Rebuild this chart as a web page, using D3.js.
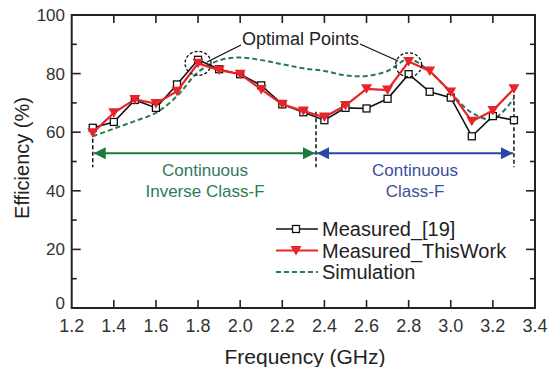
<!DOCTYPE html>
<html>
<head>
<meta charset="utf-8">
<script src="https://cdn.jsdelivr.net/npm/d3@7"></script>
<style>
  body { margin: 0; background: #fff; }
  svg { font-family: "Liberation Sans", Arial, sans-serif; }
</style>
</head>
<body>
<svg id="chart" width="550" height="367"></svg>
<script>
// data
const freq = [1.3, 1.4, 1.5, 1.6, 1.7, 1.8, 1.9, 2.0, 2.1, 2.2, 2.3,
              2.4, 2.5, 2.6, 2.7, 2.8, 2.9, 3.0, 3.1, 3.2, 3.3];
const measured19 = [61.5, 63.5, 71.0, 68.3, 76.3, 84.7, 81.5, 79.8, 76.0, 69.5, 66.8,
                    64.1, 68.3, 68.1, 71.4, 79.8, 73.8, 71.8, 58.6, 65.5, 64.1];
const measuredThis = [59.8, 66.6, 71.2, 69.8, 74.0, 83.5, 81.2, 79.8, 74.6, 69.5, 67.2,
                      65.2, 69.1, 74.8, 74.4, 84.1, 80.9, 73.7, 63.7, 67.4, 74.8];
const simulation = [58.6, 61.2, 63.8, 66.6, 72.3, 80.5, 84.5, 85.5, 84.6, 83.2, 81.8,
                    80.9, 79.4, 79.2, 80.9, 84.9, 80.7, 73.5, 66.6, 64.5, 71.5];

const xTicks = [1.2, 1.4, 1.6, 1.8, 2.0, 2.2, 2.4, 2.6, 2.8, 3.0, 3.2, 3.4];
const yTicks = [0, 20, 40, 60, 80, 100];
const yMinor = [10, 30, 50, 70, 90];

const bandEdges = [1.3, 2.36, 3.3];
const bandTops = [60, 67, 75];
const optimal = [{f: 1.8, v: 83.5}, {f: 2.8, v: 83}];

const svg = d3.select("#chart");
const x = d3.scaleLinear().domain([1.2, 3.4]).range([71.7, 535]);
const y = d3.scaleLinear().domain([0, 100]).range([308, 15]);

const axisColor = "#222";

// frame
svg.append("rect")
    .attr("x", x(1.2)).attr("y", y(100))
    .attr("width", x(3.4) - x(1.2)).attr("height", y(0) - y(100))
    .attr("fill", "none").attr("stroke", axisColor).attr("stroke-width", 2);

// ticks (inward, all four sides)
const tickG = svg.append("g").attr("stroke", axisColor).attr("stroke-width", 1.6);
xTicks.slice(1, -1).forEach(t => {
    tickG.append("line").attr("x1", x(t)).attr("x2", x(t)).attr("y1", y(0)).attr("y2", y(0) - 8);
    tickG.append("line").attr("x1", x(t)).attr("x2", x(t)).attr("y1", y(100)).attr("y2", y(100) + 8);
});
yTicks.slice(1, -1).forEach(t => {
    tickG.append("line").attr("x1", x(1.2)).attr("x2", x(1.2) + 9).attr("y1", y(t)).attr("y2", y(t));
    tickG.append("line").attr("x1", x(3.4)).attr("x2", x(3.4) - 9).attr("y1", y(t)).attr("y2", y(t));
});
yMinor.forEach(t => {
    tickG.append("line").attr("x1", x(1.2)).attr("x2", x(1.2) + 5).attr("y1", y(t)).attr("y2", y(t));
    tickG.append("line").attr("x1", x(3.4)).attr("x2", x(3.4) - 5).attr("y1", y(t)).attr("y2", y(t));
});

// tick labels
svg.append("g").selectAll("text")
    .data(xTicks).enter().append("text")
    .attr("x", d => x(d)).attr("y", 332)
    .attr("text-anchor", "middle").attr("font-size", "18px").attr("fill", "#333")
    .text(d => d.toFixed(1));
svg.append("g").selectAll("text")
    .data(yTicks).enter().append("text")
    .attr("x", 65).attr("y", d => d === 0 ? y(d) + 1 : y(d) + 6)
    .attr("text-anchor", "end").attr("font-size", "17px").attr("fill", "#333")
    .text(d => d);

// axis titles
svg.append("text")
    .attr("x", 305).attr("y", 364)
    .attr("text-anchor", "middle").attr("font-size", "21px").attr("fill", "#222")
    .text("Frequency (GHz)");
svg.append("text")
    .attr("transform", "translate(29,158) rotate(-90)")
    .attr("text-anchor", "middle").attr("font-size", "20px").attr("fill", "#222")
    .text("Efficiency (%)");

// band markers (vertical dashed)
svg.append("g").selectAll("line")
    .data(bandEdges).enter().append("line")
    .attr("x1", d => x(d)).attr("x2", d => x(d))
    .attr("y1", (d, i) => y(bandTops[i])).attr("y2", y(48))
    .attr("stroke", "#111").attr("stroke-width", 1.5).attr("stroke-dasharray", "4,2.5");

// arrows
const defs = svg.append("defs");
[["g", "#1b7a3c"], ["b", "#2746a6"]].forEach(([id, c]) => {
    defs.append("marker").attr("id", "arr-" + id)
        .attr("viewBox", "0 0 10 10").attr("refX", 10).attr("refY", 5)
        .attr("markerWidth", 16).attr("markerHeight", 12)
        .attr("markerUnits", "userSpaceOnUse")
        .attr("orient", "auto-start-reverse")
        .append("path").attr("d", "M0,0L10,5L0,10Z").attr("fill", c);
});
const arrowY = y(52.8);
svg.append("line")
    .attr("x1", x(bandEdges[0]) + 1).attr("x2", x(bandEdges[1]) - 1)
    .attr("y1", arrowY).attr("y2", arrowY)
    .attr("stroke", "#1b7a3c").attr("stroke-width", 2)
    .attr("marker-start", "url(#arr-g)").attr("marker-end", "url(#arr-g)");
svg.append("line")
    .attr("x1", x(bandEdges[1]) + 1).attr("x2", x(bandEdges[2]) - 1)
    .attr("y1", arrowY).attr("y2", arrowY)
    .attr("stroke", "#2746a6").attr("stroke-width", 2)
    .attr("marker-start", "url(#arr-b)").attr("marker-end", "url(#arr-b)");

// band labels
const bandText = svg.append("g").attr("font-size", "17px").attr("text-anchor", "middle");
bandText.append("text").attr("x", 205).attr("y", 176).attr("fill", "#2f7a58").text("Continuous");
bandText.append("text").attr("x", 205).attr("y", 197).attr("fill", "#2f7a58").text("Inverse Class-F");
bandText.append("text").attr("x", 415).attr("y", 176).attr("fill", "#3b4f9c").text("Continuous");
bandText.append("text").attr("x", 415).attr("y", 197).attr("fill", "#3b4f9c").text("Class-F");

// series lines
const line = d3.line().x(d => x(d[0])).y(d => y(d[1]));
const simLine = d3.line().x(d => x(d[0])).y(d => y(d[1])).curve(d3.curveCatmullRom.alpha(0.5));

svg.append("path")
    .datum(freq.map((f, i) => [f, simulation[i]]))
    .attr("d", simLine).attr("fill", "none")
    .attr("stroke", "#2a7a50").attr("stroke-width", 2).attr("stroke-dasharray", "5,3");

// measured [19] first, so this work sits on top of it
svg.append("path")
    .datum(freq.map((f, i) => [f, measured19[i]]))
    .attr("d", line).attr("fill", "none")
    .attr("stroke", "#111").attr("stroke-width", 1.6);
svg.append("g").selectAll("rect")
    .data(freq.map((f, i) => [f, measured19[i]])).enter().append("rect")
    .attr("x", d => x(d[0]) - 3.5).attr("y", d => y(d[1]) - 3.5)
    .attr("width", 7).attr("height", 7)
    .attr("fill", "#fff").attr("stroke", "#111").attr("stroke-width", 1.3);

svg.append("path")
    .datum(freq.map((f, i) => [f, measuredThis[i]]))
    .attr("d", line).attr("fill", "none")
    .attr("stroke", "#e8242a").attr("stroke-width", 2.2);

const tri = "M-5.5,-4.5L5.5,-4.5L0,5Z";
svg.append("g").selectAll("path")
    .data(freq.map((f, i) => [f, measuredThis[i]])).enter().append("path")
    .attr("transform", d => `translate(${x(d[0])},${y(d[1])})`)
    .attr("d", tri).attr("fill", "#e8242a");

// optimal points
svg.append("g").selectAll("ellipse")
    .data(optimal).enter().append("ellipse")
    .attr("cx", d => x(d.f)).attr("cy", d => y(d.v))
    .attr("rx", 13).attr("ry", 12)
    .attr("fill", "none").attr("stroke", "#111").attr("stroke-width", 1.3)
    .attr("stroke-dasharray", "3,2");
svg.append("text")
    .attr("x", 242).attr("y", 45).attr("font-size", "18px").attr("fill", "#222")
    .text("Optimal Points");
svg.append("line").attr("x1", 241).attr("y1", 45).attr("x2", 207).attr("y2", 62)
    .attr("stroke", "#111").attr("stroke-width", 1.3);
svg.append("line").attr("x1", 360).attr("y1", 44).attr("x2", 398).attr("y2", 61)
    .attr("stroke", "#111").attr("stroke-width", 1.3);

// legend
const legend = [
    {name: "Measured_[19]", kind: "sq"},
    {name: "Measured_ThisWork", kind: "tri"},
    {name: "Simulation", kind: "dash"}
];
const lg = svg.append("g").selectAll("g")
    .data(legend).enter().append("g")
    .attr("transform", (d, i) => `translate(276,${229 + i * 21.5})`);
lg.append("line")
    .attr("x1", 0).attr("x2", 42).attr("y1", 0).attr("y2", 0)
    .attr("stroke", d => d.kind === "sq" ? "#111" : d.kind === "tri" ? "#e8242a" : "#2a7a50")
    .attr("stroke-width", d => d.kind === "sq" ? 1.6 : 2)
    .attr("stroke-dasharray", d => d.kind === "dash" ? "5,3" : null);
lg.filter(d => d.kind === "sq").append("rect")
    .attr("x", 16.5).attr("y", -3.5).attr("width", 7).attr("height", 7)
    .attr("fill", "#fff").attr("stroke", "#111").attr("stroke-width", 1.3);
lg.filter(d => d.kind === "tri").append("path")
    .attr("transform", "translate(20,0)").attr("d", tri).attr("fill", "#e8242a");
lg.append("text")
    .attr("x", 46).attr("y", 7)
    .attr("font-size", "20px").attr("fill", "#222")
    .text(d => d.name);
</script>
</body>
</html>
